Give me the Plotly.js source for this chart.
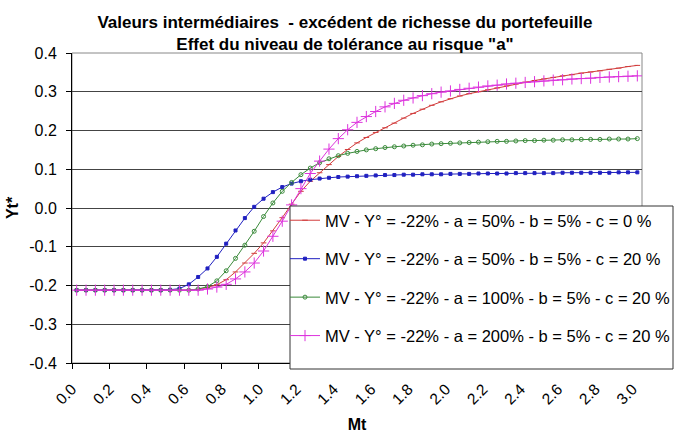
<!DOCTYPE html>
<html>
<head>
<meta charset="utf-8">
<script src="https://cdn.plot.ly/plotly-3.0.1.min.js"></script>
<style>html,body{margin:0;padding:0;background:#fff;}#chart{width:674px;height:439px;}</style>
</head>
<body>
<div id="chart"></div>
<script>
// Mt categories (x)
var mt = [0.00,0.05,0.10,0.15,0.20,0.25,0.30,0.35,0.40,0.45,0.50,0.55,0.60,0.65,0.70,0.75,0.80,0.85,0.90,0.95,
          1.00,1.05,1.10,1.15,1.20,1.25,1.30,1.35,1.40,1.45,1.50,1.55,1.60,1.65,1.70,1.75,1.80,1.85,1.90,1.95,
          2.00,2.05,2.10,2.15,2.20,2.25,2.30,2.35,2.40,2.45,2.50,2.55,2.60,2.65,2.70,2.75,2.80,2.85,2.90,2.95,3.00];

var tickLabels = ['0.0','0.2','0.4','0.6','0.8','1.0','1.2','1.4','1.6','1.8','2.0','2.2','2.4','2.6','2.8','3.0'];
var yTicks = [-0.4,-0.3,-0.2,-0.1,0.0,0.1,0.2,0.3,0.4];

var names = [
  'MV - Y° = -22% - a = 50% - b = 5% - c = 0 %',
  'MV - Y° = -22% - a = 50% - b = 5% - c = 20 %',
  'MV - Y° = -22% - a = 100% - b = 5% - c = 20 %',
  'MV - Y° = -22% - a = 200% - b = 5% - c = 20 %'
];

var redA50c0 = [-0.212,-0.212,-0.212,-0.212,-0.212,-0.212,-0.212,-0.212,-0.212,-0.212,
  -0.212,-0.212,-0.212,-0.210,-0.205,-0.198,-0.185,-0.165,-0.142,-0.117,
  -0.090,-0.059,-0.025,0.010,0.043,0.069,0.091,0.112,0.133,0.151,
  0.168,0.182,0.195,0.207,0.219,0.232,0.244,0.255,0.265,0.274,
  0.282,0.289,0.295,0.300,0.305,0.310,0.315,0.320,0.325,0.329,
  0.333,0.337,0.341,0.344,0.348,0.351,0.354,0.358,0.361,0.365,0.368];

var blueA50c20 = [-0.212,-0.212,-0.212,-0.212,-0.212,-0.212,-0.212,-0.212,-0.212,-0.212,
  -0.211,-0.208,-0.197,-0.178,-0.156,-0.126,-0.092,-0.058,-0.026,0.003,
  0.024,0.041,0.054,0.063,0.069,0.073,0.076,0.078,0.080,0.081,
  0.082,0.083,0.084,0.085,0.085,0.086,0.086,0.087,0.087,0.087,
  0.088,0.088,0.088,0.089,0.089,0.089,0.089,0.090,0.090,0.090,
  0.090,0.090,0.091,0.091,0.091,0.091,0.091,0.091,0.092,0.092,0.092];

var greenA100c20 = [-0.212,-0.212,-0.212,-0.212,-0.212,-0.212,-0.212,-0.212,-0.212,-0.212,
  -0.212,-0.212,-0.212,-0.209,-0.203,-0.188,-0.162,-0.130,-0.096,-0.060,
  -0.022,0.013,0.043,0.066,0.086,0.103,0.117,0.127,0.135,0.141,
  0.146,0.150,0.153,0.156,0.158,0.160,0.162,0.163,0.165,0.166,
  0.167,0.168,0.169,0.170,0.171,0.172,0.172,0.173,0.174,0.174,
  0.175,0.175,0.176,0.176,0.177,0.177,0.177,0.178,0.178,0.178,0.179];

var magentaA200c20 = [-0.212,-0.212,-0.212,-0.212,-0.212,-0.212,-0.212,-0.212,-0.212,-0.212,
  -0.212,-0.212,-0.212,-0.212,-0.209,-0.204,-0.197,-0.183,-0.165,-0.142,
  -0.111,-0.073,-0.034,0.008,0.050,0.089,0.121,0.152,0.179,0.202,
  0.221,0.236,0.249,0.261,0.270,0.278,0.284,0.290,0.295,0.299,
  0.302,0.306,0.309,0.312,0.315,0.317,0.320,0.322,0.324,0.326,
  0.328,0.330,0.331,0.333,0.334,0.335,0.337,0.338,0.339,0.340,0.341];

var FONT = 'Liberation Sans, Arial, sans-serif';
var step = mt[1] - mt[0];

function tr(y, name, color, symbol, size, group) {
  return {
    x: mt, y: y, name: name, type: 'scatter', mode: 'lines+markers',
    legendgroup: group,
    line: {color: color, width: 1},
    marker: {color: color, symbol: symbol, size: size, line: {color: color, width: 1}}
  };
}

var data = [
  tr(redA50c0, names[0], '#D23C3C', 'line-ew', 4, 'g1'),
  tr(blueA50c20, names[1], '#2020C0', 'square', 3, 'g2'),
  tr(greenA100c20, names[2], '#3A8A3A', 'circle-open', 4, 'g3'),
  tr(magentaA200c20, names[3], '#DD33DD', 'cross-thin', 8, 'g4')
];

var L = 72, R = 32, T = 53, B = 76, W = 674, H = 439;
var pw = W - L - R, ph = H - T - B;
function px2x(p) { return (p - L) / pw; }
function py2y(p) { return (H - B - p) / ph; }

var layout = {
  width: W, height: H,
  margin: {l: L, r: R, t: T, b: B, pad: 0, autoexpand: false},
  paper_bgcolor: '#ffffff', plot_bgcolor: '#ffffff',
  font: {family: FONT, color: '#000000', size: 15},
  title: {
    text: 'Valeurs intermédiaires  - excédent de richesse du portefeuille<br>Effet du niveau de tolérance au risque "a"',
    font: {family: FONT, size: 17, weight: 'bold', color: '#000'},
    x: 345 / W, xanchor: 'center', xref: 'container',
    y: 1 - 28 / H, yanchor: 'middle', yref: 'container'
  },
  xaxis: {
    range: [mt[0] - step / 2, mt[mt.length - 1] + step / 2],
    tickmode: 'array',
    tickvals: tickLabels.map(function (t) { return parseFloat(t) - step / 2; }),
    ticktext: tickLabels,
    tickangle: -45,
    ticks: 'outside', ticklen: 5, tickcolor: '#000', tickwidth: 1,
    ticklabelstandoff: 5,
    showline: true, linecolor: '#000', linewidth: 1,
    showgrid: false, zeroline: false,
    tickfont: {family: FONT, size: 15.5},
    title: {text: 'Mt', font: {family: FONT, size: 16, weight: 'bold'}, standoff: 12},
    automargin: false
  },
  yaxis: {
    range: [-0.4, 0.4],
    tickmode: 'array', tickvals: yTicks,
    ticktext: yTicks.map(function (v) { return v.toFixed(1); }),
    ticks: 'outside', ticklen: 5, tickcolor: '#000', tickwidth: 1,
    ticklabelstandoff: 6,
    showline: true, linecolor: '#000', linewidth: 1,
    showgrid: true, gridcolor: '#444444', gridwidth: 1,
    zeroline: false,
    tickfont: {family: FONT, size: 16},
    title: {text: 'Yt*', font: {family: FONT, size: 16, weight: 'bold'}, standoff: 6},
    automargin: false
  },
  showlegend: true,
  legend: {
    x: px2x(285), y: py2y(203), xanchor: 'left', yanchor: 'top',
    bgcolor: 'rgba(0,0,0,0)', borderwidth: 0,
    font: {family: FONT, size: 16.5, color: '#000'},
    tracegroupgap: 14, itemwidth: 30
  },
  shapes: [
    {type: 'rect', xref: 'paper', yref: 'paper', x0: 0, x1: 1, y0: 0, y1: 1,
     line: {color: '#888888', width: 1}, fillcolor: 'rgba(0,0,0,0)', layer: 'below'},
    {type: 'rect', xref: 'paper', yref: 'paper',
     x0: px2x(290), x1: px2x(673), y0: py2y(369), y1: py2y(206),
     line: {color: '#333333', width: 1}, fillcolor: '#ffffff', layer: 'above'}
  ]
};

Plotly.newPlot('chart', data, layout, {displayModeBar: false, staticPlot: true});
</script>
</body>
</html>
